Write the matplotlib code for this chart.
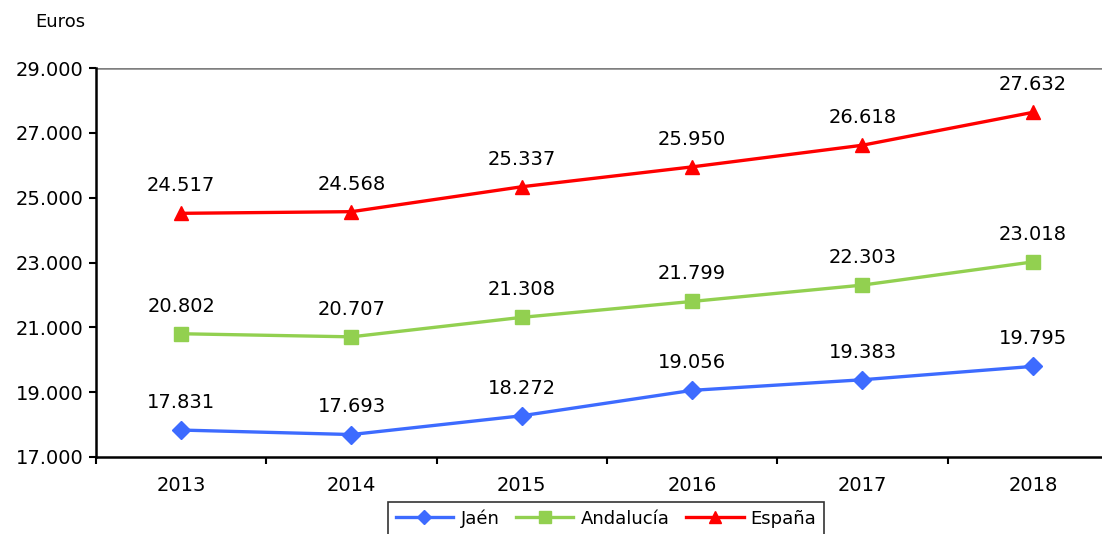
import matplotlib.pyplot as plt
import numpy as np

years = ["2013", "2014", "2015", "2016", "2017", "2018"]
jaen = [17831, 17693, 18272, 19056, 19383, 19795]
andalucia = [20802, 20707, 21308, 21799, 22303, 23018]
espana = [24517, 24568, 25337, 25950, 26618, 27632]

series = [
    ("Jaén", jaen, "#3D6BFF", "D", 9),
    ("Andalucía", andalucia, "#92D050", "s", 10),
    ("España", espana, "#FF0000", "^", 10),
]

def fmt(v):
    return f"{v:,}".replace(",", ".")

plt.rcParams['font.family'] = ['DejaVu Sans']
fig = plt.figure(figsize=(11.02, 5.34), dpi=100)
ax = fig.add_axes([96 / 1102, 1 - 457 / 534, (1118 - 96) / 1102, (457 - 68) / 534])

x = np.arange(len(years))
for name, vals, color, marker, ms in series:
    ax.plot(x, vals, color=color, lw=2.4, marker=marker, ms=ms, label=name, clip_on=False)
    for xi, v in zip(x, vals):
        ax.annotate(fmt(v), (xi, v), xytext=(0, 13), textcoords="offset points",
                    ha="center", va="bottom", fontsize=14)

ax.set_xlim(-0.5, len(years) - 0.5)
ax.set_ylim(17000, 29000)
yt = np.arange(17000, 29001, 2000)
ax.set_yticks(yt)
ax.set_yticklabels([fmt(v) for v in yt], fontsize=14)
ax.set_xticks(x)
ax.set_xticklabels(years, fontsize=14)
ax.tick_params(axis="x", length=0, pad=14)
ax.set_xticks(np.arange(-0.5, len(years)), minor=True)
ax.tick_params(axis="x", which="minor", length=5, width=1.5, direction="out")
ax.tick_params(axis="y", length=5, width=1.5, direction="out", pad=4)

ax.spines["right"].set_visible(False)
ax.spines["top"].set_visible(False)
ax.spines["left"].set_linewidth(1.8)
ax.spines["bottom"].set_linewidth(1.8)
ax.axhline(29000, color="#7f7f7f", lw=1.8, zorder=0)

fig.text(35 / 1102, 1 - 22 / 534, "Euros", fontsize=13, va="center")

leg = fig.legend(loc="upper center", bbox_to_anchor=(606 / 1102, 1 - 493 / 534),
                 ncol=3, fontsize=13, frameon=True, fancybox=False,
                 handlelength=3.2, handletextpad=0.4, columnspacing=0.9,
                 borderpad=0.4, markerscale=0.8)
leg.get_frame().set_edgecolor("black")
leg.get_frame().set_linewidth(1.2)

fig.savefig("out.png", dpi=100)
